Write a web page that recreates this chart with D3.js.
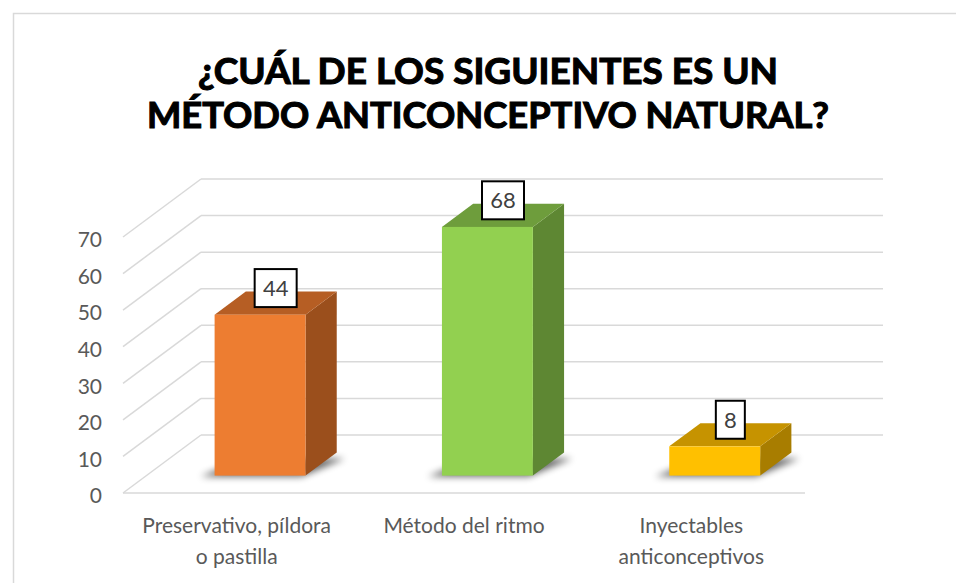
<!DOCTYPE html>
<html>
<head>
<meta charset="utf-8">
<script src="https://cdn.jsdelivr.net/npm/d3@7"></script>
<style>
  html, body { margin: 0; padding: 0; background: #fff; }
  svg { display: block; }
</style>
</head>
<body>
<svg id="chart" width="956" height="583"></svg>
<script>
// data
var titleLines = ['¿CUÁL DE LOS SIGUIENTES ES UN', 'MÉTODO ANTICONCEPTIVO NATURAL?'];
var categories = ['Preservativo, píldora o pastilla', 'Método del ritmo', 'Inyectables anticonceptivos'];
var categoryLines = [['Preservativo, píldora', 'o pastilla'], ['Método del ritmo'], ['Inyectables', 'anticonceptivos']];
var values = [44, 68, 8];
var yTicks = [0, 10, 20, 30, 40, 50, 60, 70];

// bar palettes: front, top, side
var palette = [
  { front: '#ED7D31', top: '#B65E24', side: '#9B4F1C' },
  { front: '#92D050', top: '#6E9D3C', side: '#5E8733' },
  { front: '#FFC000', top: '#C69300', side: '#A87D00' }
];

var svg = d3.select('#chart');

// depth vector of the 3d box (oblique projection)
var depth = { dx: 78, dy: -58 };
var f0 = 0.3, f1 = 0.7;

var x = d3.scaleBand()
  .domain(categories)
  .range([123, 805])
  .paddingInner(0.6)
  .paddingOuter(0.3);

var y = d3.scaleLinear()
  .domain([0, 70])
  .range([493, 237]);

/**
 * chart frame
 */
svg.append('rect')
  .attr('x', 13.5).attr('y', 13.5)
  .attr('width', 960).attr('height', 600)
  .attr('fill', '#fff')
  .attr('stroke', '#D9D9D9')
  .attr('stroke-width', 1.5);

var defs = svg.append('defs');
defs.append('filter')
  .attr('id', 'shadow')
  .attr('x', '-50%').attr('y', '-50%')
  .attr('width', '200%').attr('height', '200%')
  .append('feGaussianBlur')
  .attr('stdDeviation', 3.5);

// title
svg.append('g')
  .selectAll('text')
  .data(titleLines)
  .enter()
  .append('text')
  .attr('x', 488)
  .attr('y', function (d, i) { return 84 + i * 44; })
  .attr('text-anchor', 'middle')
  .attr('textLength', function (d, i) { return i === 0 ? 580 : 682; })
  .attr('lengthAdjust', 'spacingAndGlyphs')
  .style('font-family', 'Lato, sans-serif')
  .style('font-weight', 'bold')
  .style('font-size', '36px')
  .style('fill', '#000')
  .style('stroke', '#000')
  .style('stroke-width', '1.1px')
  .text(function (d) { return d; });

/**
 * gridlines: left wall diagonals + back wall
 */
var grid = svg.append('g').attr('class', 'grid')
  .attr('stroke', '#D9D9D9')
  .attr('stroke-width', 1.5)
  .attr('fill', 'none');

grid.selectAll('line.diag')
  .data(yTicks)
  .enter()
  .append('line')
  .attr('class', 'diag')
  .attr('x1', x.range()[0])
  .attr('y1', function (d) { return y(d); })
  .attr('x2', x.range()[0] + depth.dx)
  .attr('y2', function (d) { return y(d) + depth.dy; });

grid.selectAll('line.back')
  .data(yTicks)
  .enter()
  .append('line')
  .attr('class', 'back')
  .attr('x1', x.range()[0] + depth.dx)
  .attr('y1', function (d) { return y(d) + depth.dy; })
  .attr('x2', x.range()[1] + depth.dx)
  .attr('y2', function (d) { return y(d) + depth.dy; });

grid.append('line')
  .attr('x1', x.range()[0]).attr('y1', y(0))
  .attr('x2', x.range()[1]).attr('y2', y(0));

// y axis labels
var yAxis = svg.append('g')
  .attr('transform', 'translate(' + x.range()[0] + ',3)')
  .call(d3.axisLeft(y).tickValues(yTicks).tickSize(0).tickPadding(21));
yAxis.select('.domain').remove();
yAxis.selectAll('text')
  .style('font-family', 'Lato, sans-serif')
  .style('font-size', '21px')
  .style('fill', '#595959');

/**
 * 3d bars
 */
var bars = categories.map(function (c, i) {
  var x0 = x(c), x1 = x(c) + x.bandwidth();
  var a = { dx: depth.dx * f0, dy: depth.dy * f0 };
  var b = { dx: depth.dx * f1, dy: depth.dy * f1 };
  return { cat: c, value: values[i], col: palette[i], x0: x0, x1: x1, a: a, b: b };
});

function pts(arr) {
  return arr.map(function (p) { return p[0] + ',' + p[1]; }).join(' ');
}

var barG = svg.append('g').attr('class', 'bars');

// shadows
barG.selectAll('polygon.shadow')
  .data(bars)
  .enter()
  .append('polygon')
  .attr('class', 'shadow')
  .attr('points', function (d) {
    var yb = y(0);
    return pts([
      [d.x0 + d.a.dx - 14, yb + d.a.dy + 1],
      [d.x1 + d.a.dx - 4, yb + d.a.dy + 1],
      [d.x1 + d.b.dx + 8, yb + d.b.dy + 6],
      [d.x0 + d.b.dx, yb + d.b.dy + 6]
    ]);
  })
  .attr('fill', '#000')
  .attr('opacity', 0.6)
  .attr('filter', 'url(#shadow)');

var barEnter = barG.selectAll('g.bar')
  .data(bars)
  .enter()
  .append('g')
  .attr('class', 'bar');

// side face
barEnter.append('polygon')
  .attr('points', function (d) {
    var yt = y(d.value), yb = y(0);
    return pts([
      [d.x1 + d.a.dx, yt + d.a.dy],
      [d.x1 + d.b.dx, yt + d.b.dy],
      [d.x1 + d.b.dx, yb + d.b.dy],
      [d.x1 + d.a.dx, yb + d.a.dy]
    ]);
  })
  .attr('fill', function (d) { return d.col.side; });

// top face
barEnter.append('polygon')
  .attr('points', function (d) {
    var yt = y(d.value);
    return pts([
      [d.x0 + d.a.dx, yt + d.a.dy],
      [d.x1 + d.a.dx, yt + d.a.dy],
      [d.x1 + d.b.dx, yt + d.b.dy],
      [d.x0 + d.b.dx, yt + d.b.dy]
    ]);
  })
  .attr('fill', function (d) { return d.col.top; });

// front face
barEnter.append('rect')
  .attr('x', function (d) { return d.x0 + d.a.dx; })
  .attr('y', function (d) { return y(d.value) + d.a.dy; })
  .attr('width', x.bandwidth())
  .attr('height', function (d) { return y(0) - y(d.value); })
  .attr('fill', function (d) { return d.col.front; });

/**
 * data labels
 */
var labelG = svg.append('g').attr('class', 'labels');
var labels = labelG.selectAll('g.label')
  .data(bars)
  .enter()
  .append('g')
  .attr('class', 'label')
  .attr('transform', function (d) {
    var cx = (d.x0 + d.x1) / 2 + (d.a.dx + d.b.dx) / 2;
    var bottom = y(d.value) + (d.a.dy + d.b.dy) / 2 + 4;
    return 'translate(' + cx + ',' + (bottom - 19) + ')';
  });

labels.append('rect')
  .attr('x', function (d) { return String(d.value).length > 1 ? -21 : -14.5; })
  .attr('y', -19)
  .attr('width', function (d) { return String(d.value).length > 1 ? 42 : 29; })
  .attr('height', 38)
  .attr('fill', '#fff')
  .attr('stroke', '#000')
  .attr('stroke-width', 2);

labels.append('text')
  .attr('text-anchor', 'middle')
  .attr('dy', '0.36em')
  .style('font-family', 'Lato, sans-serif')
  .style('font-size', '22px')
  .style('fill', '#404040')
  .text(function (d) { return d.value; });

/**
 * category labels
 */
var catG = svg.append('g').attr('class', 'categories');
categories.forEach(function (c, i) {
  var t = catG.append('text')
    .attr('text-anchor', 'middle')
    .style('font-family', 'Lato, sans-serif')
    .style('font-size', '21px')
    .style('fill', '#595959');
  categoryLines[i].forEach(function (line, j) {
    t.append('tspan')
      .attr('x', x(c) + x.bandwidth() / 2)
      .attr('y', 533 + j * 31)
      .text(line);
  });
});
</script>
</body>
</html>
